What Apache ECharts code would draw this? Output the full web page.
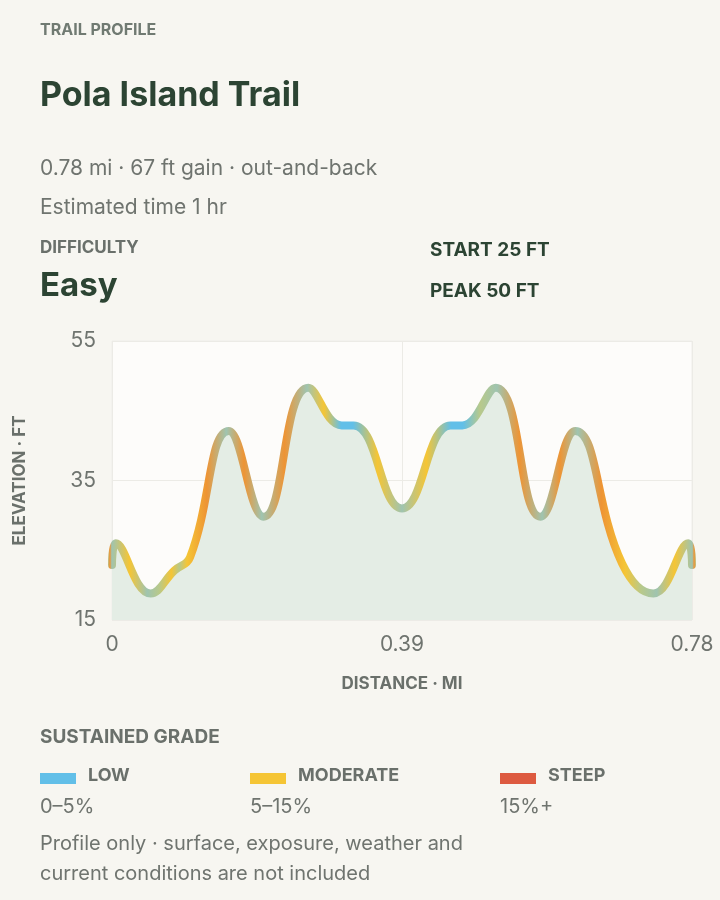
<!DOCTYPE html>
<html><head><meta charset="utf-8">
<script src="https://cdn.jsdelivr.net/npm/echarts@6/dist/echarts.min.js"></script>
<style>
html,body{margin:0;padding:0;background:#f7f6f1;}
#main{width:720px;height:900px;}
</style></head>
<body><div id="main"></div>
<script>
// 距离（英里）与海拔（英尺）
var distMi = [0, 0.005, 0.052, 0.084, 0.105, 0.157, 0.204, 0.264, 0.309, 0.325, 0.390, 0.455, 0.471, 0.516, 0.576, 0.623, 0.686, 0.728, 0.775, 0.78];
var elevFt = [22.9, 26.0, 18.8, 22.1, 24.0, 42.1, 29.8, 48.3, 42.9, 42.9, 31.0, 42.9, 42.9, 48.3, 29.8, 42.1, 23.1, 18.8, 26.0, 22.9];
var yTicks = [15, 35, 55];
var xTicks = [0, 0.39, 0.78];
var legendItems = [
	{ name : 'LOW', range : '0–5%', color : '#62bfe8' },
	{ name : 'MODERATE', range : '5–15%', color : '#f5c535' },
	{ name : 'STEEP', range : '15%+', color : '#dd5a40' }
];

var chart = echarts.init(document.getElementById('main'));

// 按坡度给线条上色
function gradeColor(ftPerMi) {
	var g = Math.abs(ftPerMi);
	if (g < 60) return '#62bfe8';
	if (g < 120) return '#b8c98a';
	if (g < 240) return '#f5c535';
	return '#ee9434';
}
var total = distMi[distMi.length - 1];
var stops = [];
for (var i = 0; i < distMi.length; i++) {
	var prev = i > 0 ? elevFt[i] - elevFt[i - 1] : 0;
	var next = i < distMi.length - 1 ? elevFt[i + 1] - elevFt[i] : 0;
	var c;
	if (i === 0 || i === distMi.length - 1) c = '#b7c186';
	else if (prev === 0 || next === 0) c = '#62bfe8';
	else if (prev * next < 0) c = '#9fc4b0';
	else c = '#f5c535';
	stops.push({ offset : distMi[i] / total, color : c });
	if (i < distMi.length - 1) {
		var s = (elevFt[i + 1] - elevFt[i]) / (distMi[i + 1] - distMi[i]);
		stops.push({ offset : (distMi[i] + distMi[i + 1]) / 2 / total, color : gradeColor(s) });
	}
}

var graphics = [
	{ type : 'text', left : 40, top : 22, style : { text : 'TRAIL PROFILE', font : 'bold 16px Inter', fill : '#707a72' } },
	{ type : 'text', left : 40, top : 79, style : { text : 'Pola Island Trail', font : 'bold 34px Inter', fill : '#2c4433' } },
	{ type : 'text', left : 40, top : 158, style : { text : '0.78 mi · 67 ft gain · out-and-back', font : '21px Inter', fill : '#6f746f' } },
	{ type : 'text', left : 40, top : 197, style : { text : 'Estimated time 1 hr', font : '21px Inter', fill : '#6f746f' } },
	{ type : 'text', left : 40, top : 239, style : { text : 'DIFFICULTY', font : 'bold 17px Inter', fill : '#6a706b' } },
	{ type : 'text', left : 40, top : 270, style : { text : 'Easy', font : 'bold 33px Inter', fill : '#2c4433' } },
	{ type : 'text', left : 430, top : 241, style : { text : 'START 25 FT', font : 'bold 19px Inter', fill : '#2c4433' } },
	{ type : 'text', left : 430, top : 282, style : { text : 'PEAK 50 FT', font : 'bold 19px Inter', fill : '#2c4433' } },
	{ type : 'text', left : 40, top : 728, style : { text : 'SUSTAINED GRADE', font : 'bold 19px Inter', fill : '#6a706b' } },
	{ type : 'text', left : 40, top : 834, style : { text : 'Profile only · surface, exposure, weather and', font : '20px Inter', fill : '#6f746f' } },
	{ type : 'text', left : 40, top : 864, style : { text : 'current conditions are not included', font : '20px Inter', fill : '#6f746f' } }
];
var legendX = [40, 250, 500];
legendItems.forEach(function(item, k) {
	graphics.push({ type : 'rect', left : legendX[k], top : 773, shape : { width : 36, height : 11 }, style : { fill : item.color } });
	graphics.push({ type : 'text', left : legendX[k] + 48, top : 767, style : { text : item.name, font : 'bold 18px Inter', fill : '#6a706b' } });
	graphics.push({ type : 'text', left : legendX[k], top : 797, style : { text : item.range, font : '20px Inter', fill : '#6f746f' } });
});

chart.setOption({
	animation : false,
	graphic : graphics,
	grid : {
		left : 112,
		right : 28,
		top : 341,
		bottom : 280,
		show : true,
		backgroundColor : '#fdfcfa',
		borderColor : '#efeeea',
		borderWidth : 1
	},
	xAxis : {
		type : 'value',
		min : 0,
		max : 0.78,
		interval : 0.39,
		name : 'DISTANCE · MI',
		nameLocation : 'middle',
		nameGap : 55,
		nameTextStyle : { fontFamily : 'Inter', fontWeight : 'bold', fontSize : 17, color : '#6a706b' },
		axisLine : { show : false },
		axisTick : { show : false },
		axisLabel : {
			fontFamily : 'Inter', fontSize : 21, color : '#6f746f', margin : 14,
			formatter : function(v) { return xTicks.indexOf(v) >= 0 ? String(v) : ''; }
		},
		splitLine : { lineStyle : { color : '#ecebe6' } }
	},
	yAxis : {
		type : 'value',
		min : 15,
		max : 55,
		interval : 20,
		name : 'ELEVATION · FT',
		nameLocation : 'middle',
		nameGap : 84,
		nameTextStyle : { fontFamily : 'Inter', fontWeight : 'bold', fontSize : 17, color : '#6a706b' },
		axisLine : { show : false },
		axisTick : { show : false },
		axisLabel : {
			fontFamily : 'Inter', fontSize : 21, color : '#6f746f', margin : 16,
			formatter : function(v) { return yTicks.indexOf(v) >= 0 ? String(v) : ''; }
		},
		splitLine : { lineStyle : { color : '#ecebe6' } }
	},
	series : [ {
		type : 'line',
		smooth : 0.45,
		symbol : 'none',
		data : distMi.map(function(d, i) { return [ d, elevFt[i] ]; }),
		lineStyle : {
			width : 8,
			cap : 'round',
			join : 'round',
			color : new echarts.graphic.LinearGradient(0, 0, 1, 0, stops)
		},
		areaStyle : { color : '#e4ede5', opacity : 1 }
	} ]
});
</script>
</body></html>
